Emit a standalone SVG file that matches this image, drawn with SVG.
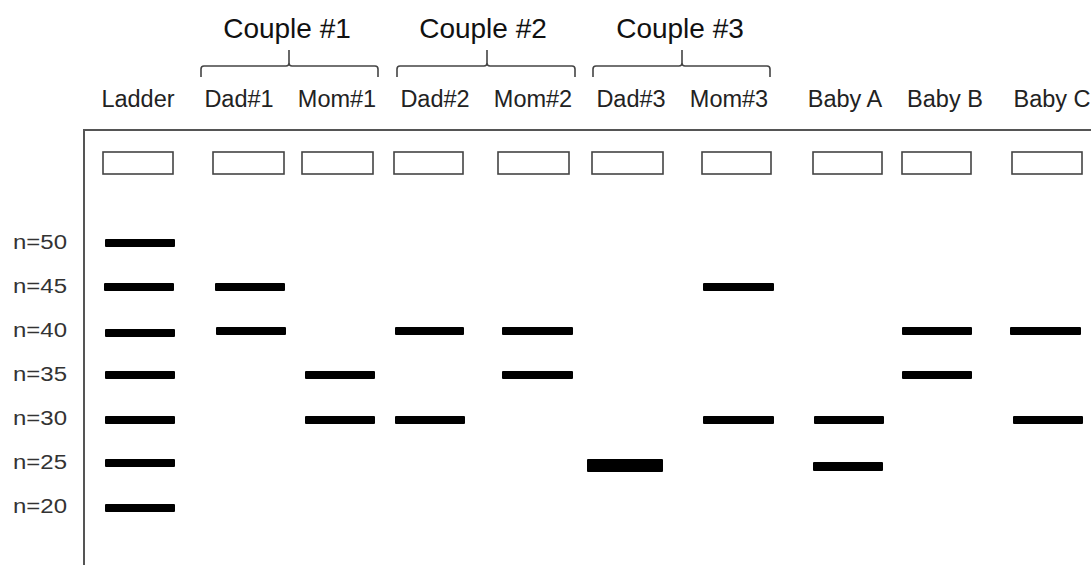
<svg xmlns="http://www.w3.org/2000/svg" width="1091" height="565" viewBox="0 0 1091 565">
<style>
.lbl{font-family:"Liberation Sans",Arial,sans-serif;font-size:23.5px;fill:#222;text-anchor:middle}
.cpl{font-family:"Liberation Sans",Arial,sans-serif;font-size:28px;fill:#111;text-anchor:middle}
.n{font-family:"Liberation Sans",Arial,sans-serif;font-size:20px;fill:#333}
.well{fill:#fff;stroke:#444;stroke-width:1.6}
.band{fill:#000}
.brace{fill:none;stroke:#444;stroke-width:1.6}
.frame{fill:none;stroke:#555;stroke-width:2}
</style>
<rect width="1091" height="565" fill="#fff"/>
<g id="frame">
<path class="frame" d="M84,565 V130 H1091"/>
</g>
<g id="couples">
<text class="cpl" x="287" y="38">Couple #1</text>
<text class="cpl" x="483" y="38">Couple #2</text>
<text class="cpl" x="680" y="38">Couple #3</text>
<path class="brace" d="M201,77 V69 Q201,66 204,66 H286 Q289,66 289,63 V50 M289,63 Q289,66 292,66 H375 Q378,66 378,69 V77"/>
<path class="brace" d="M397,77 V69 Q397,66 400,66 H484 Q487,66 487,63 V50 M487,63 Q487,66 490,66 H572 Q575,66 575,69 V77"/>
<path class="brace" d="M593,77 V69 Q593,66 596,66 H679 Q682,66 682,63 V50 M682,63 Q682,66 685,66 H767 Q770,66 770,69 V77"/>
</g>
<g id="sizes">
<text class="n" x="13" y="249" textLength="54" lengthAdjust="spacingAndGlyphs">n=50</text>
<text class="n" x="13" y="293" textLength="54" lengthAdjust="spacingAndGlyphs">n=45</text>
<text class="n" x="13" y="337" textLength="54" lengthAdjust="spacingAndGlyphs">n=40</text>
<text class="n" x="13" y="381" textLength="54" lengthAdjust="spacingAndGlyphs">n=35</text>
<text class="n" x="13" y="425" textLength="54" lengthAdjust="spacingAndGlyphs">n=30</text>
<text class="n" x="13" y="469" textLength="54" lengthAdjust="spacingAndGlyphs">n=25</text>
<text class="n" x="13" y="513" textLength="54" lengthAdjust="spacingAndGlyphs">n=20</text>
</g>
<g id="lane-ladder">
<text class="lbl" x="138" y="107">Ladder</text>
<rect class="well" x="103" y="152" width="70" height="22"/>
<rect class="band" x="105" y="239" width="70" height="8" rx="1"/>
<rect class="band" x="104" y="283" width="70" height="8" rx="1"/>
<rect class="band" x="105" y="329" width="70" height="8" rx="1"/>
<rect class="band" x="105" y="371" width="70" height="8" rx="1"/>
<rect class="band" x="105" y="416" width="70" height="8" rx="1"/>
<rect class="band" x="105" y="459" width="70" height="8" rx="1"/>
<rect class="band" x="105" y="504" width="70" height="8" rx="1"/>
</g>
<g id="lane-dad1">
<text class="lbl" x="239" y="107">Dad#1</text>
<rect class="well" x="213" y="152" width="71" height="22"/>
<rect class="band" x="215" y="283" width="70" height="8" rx="1"/>
<rect class="band" x="216" y="327" width="70" height="8" rx="1"/>
</g>
<g id="lane-mom1">
<text class="lbl" x="337" y="107">Mom#1</text>
<rect class="well" x="302" y="152" width="71" height="22"/>
<rect class="band" x="305" y="371" width="70" height="8" rx="1"/>
<rect class="band" x="305" y="416" width="70" height="8" rx="1"/>
</g>
<g id="lane-dad2">
<text class="lbl" x="435" y="107">Dad#2</text>
<rect class="well" x="394" y="152" width="69" height="22"/>
<rect class="band" x="395" y="327" width="69" height="8" rx="1"/>
<rect class="band" x="395" y="416" width="70" height="8" rx="1"/>
</g>
<g id="lane-mom2">
<text class="lbl" x="533" y="107">Mom#2</text>
<rect class="well" x="498" y="152" width="71" height="22"/>
<rect class="band" x="502" y="327" width="71" height="8" rx="1"/>
<rect class="band" x="502" y="371" width="71" height="8" rx="1"/>
</g>
<g id="lane-dad3">
<text class="lbl" x="631" y="107">Dad#3</text>
<rect class="well" x="592" y="152" width="71" height="22"/>
<rect class="band" x="587" y="459" width="76" height="13" rx="1"/>
</g>
<g id="lane-mom3">
<text class="lbl" x="729" y="107">Mom#3</text>
<rect class="well" x="702" y="152" width="69" height="22"/>
<rect class="band" x="703" y="283" width="71" height="8" rx="1"/>
<rect class="band" x="703" y="416" width="71" height="8" rx="1"/>
</g>
<g id="lane-babyA">
<text class="lbl" x="845" y="107">Baby A</text>
<rect class="well" x="813" y="152" width="69" height="22"/>
<rect class="band" x="814" y="416" width="70" height="8" rx="1"/>
<rect class="band" x="813" y="462" width="70" height="9" rx="1"/>
</g>
<g id="lane-babyB">
<text class="lbl" x="945" y="107">Baby B</text>
<rect class="well" x="902" y="152" width="69" height="22"/>
<rect class="band" x="902" y="327" width="70" height="8" rx="1"/>
<rect class="band" x="902" y="371" width="70" height="8" rx="1"/>
</g>
<g id="lane-babyC">
<text class="lbl" x="1052" y="107">Baby C</text>
<rect class="well" x="1012" y="152" width="70" height="22"/>
<rect class="band" x="1010" y="327" width="71" height="8" rx="1"/>
<rect class="band" x="1013" y="416" width="70" height="8" rx="1"/>
</g>
</svg>
